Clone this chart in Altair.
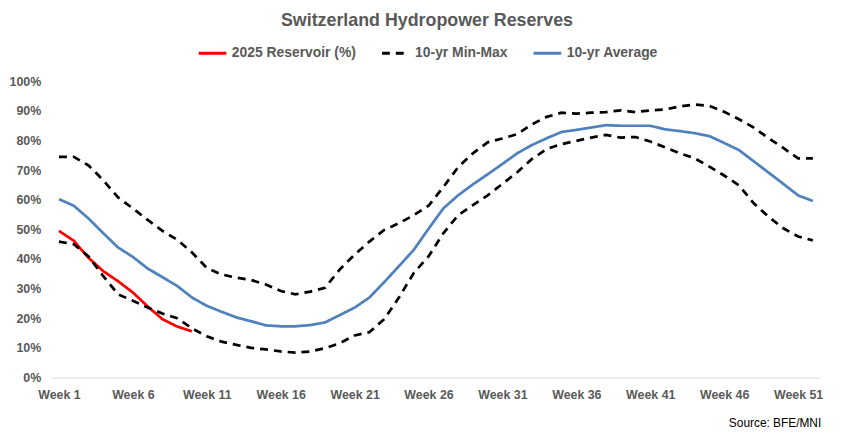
import altair as alt
import pandas as pd

weeks = list(range(1, 53))

reservoir_2025 = [49.5, 46.2, 40.4, 35.9, 32.5, 28.7, 24.0, 19.7, 17.2, 15.6]

ten_yr_max = [74.5, 74.5, 71.6, 66.6, 60.8, 57.1, 53.2, 49.5, 46.5, 42.2,
              37.0, 34.8, 33.7, 32.9, 31.4, 29.2, 28.1, 29.0, 30.3, 36.5,
              41.5, 45.9, 49.8, 52.1, 54.8, 58.0, 64.3, 71.0, 75.7, 79.4,
              80.7, 82.2, 85.5, 88.0, 89.4, 89.1, 89.4, 89.6, 90.2, 89.6,
              90.2, 90.5, 91.5, 92.2, 91.7, 89.7, 87.2, 84.4, 80.8, 77.5,
              74.0, 74.0]

ten_yr_min = [45.9, 45.0, 40.9, 34.2, 28.1, 25.9, 23.6, 21.6, 20.0, 16.6,
              13.9, 12.1, 11.0, 10.0, 9.5, 8.8, 8.4, 8.8, 9.9, 11.6,
              14.2, 15.3, 19.7, 27.0, 35.3, 40.9, 48.7, 54.8, 58.2, 61.5,
              65.4, 69.3, 73.8, 77.2, 78.8, 79.9, 81.0, 81.9, 81.0, 81.2,
              79.7, 77.7, 75.7, 74.0, 71.2, 68.2, 64.9, 58.8, 54.3, 50.4,
              47.6, 46.3]

ten_yr_avg = [60.2, 58.0, 53.7, 48.7, 43.9, 40.7, 36.8, 33.9, 30.9, 27.0,
              24.2, 22.2, 20.3, 19.0, 17.6, 17.3, 17.3, 17.7, 18.6, 21.1,
              23.6, 27.0, 32.2, 37.6, 43.1, 50.2, 57.1, 61.5, 65.2, 68.6,
              72.1, 75.7, 78.5, 80.8, 82.9, 83.6, 84.4, 85.2, 85.0, 85.0,
              85.0, 83.8, 83.2, 82.5, 81.5, 79.2, 76.8, 73.0, 69.2, 65.4,
              61.5, 59.6]

series_names = ["2025 Reservoir (%)", "10-yr Min-Max", "10-yr Average"]
x_tick_weeks = [1, 6, 11, 16, 21, 26, 31, 36, 41, 46, 51]
y_ticks = [0, 10, 20, 30, 40, 50, 60, 70, 80, 90, 100]

rows = []
for w, v in zip(weeks, reservoir_2025):
    rows.append({"week": w, "value": v, "series": series_names[0], "line": "2025"})
for w, v in zip(weeks, ten_yr_max):
    rows.append({"week": w, "value": v, "series": series_names[1], "line": "max"})
for w, v in zip(weeks, ten_yr_min):
    rows.append({"week": w, "value": v, "series": series_names[1], "line": "min"})
for w, v in zip(weeks, ten_yr_avg):
    rows.append({"week": w, "value": v, "series": series_names[2], "line": "avg"})
df = pd.DataFrame(rows)

GRAY = "#595959"
FONT = "Liberation Sans"

legend = alt.Legend(
    title=None, orient="none", legendX=147, legendY=-44, direction="horizontal",
    columns=3, symbolType="stroke", symbolSize=784, symbolStrokeWidth=3,
    labelFont=FONT, labelFontSize=14, labelFontWeight="bold", labelColor=GRAY,
    columnPadding=19, labelOffset=4,
)

lines = alt.Chart(df).mark_line(strokeWidth=2.75).encode(
    x=alt.X("week:Q",
            scale=alt.Scale(domain=[0.5, 52.5], nice=False, zero=False),
            axis=alt.Axis(values=x_tick_weeks, labelExpr="'Week ' + datum.value",
                          title=None, grid=False, ticks=False, domainColor="#D9D9D9",
                          labelColor=GRAY, labelFont=FONT, labelFontSize=12.5,
                          labelFontWeight="bold", labelPadding=11, labelFlush=False)),
    y=alt.Y("value:Q",
            scale=alt.Scale(domain=[0, 100], nice=False),
            axis=alt.Axis(values=y_ticks, labelExpr="datum.value + '%'",
                          title=None, grid=False, ticks=False, domain=False,
                          labelColor=GRAY, labelFont=FONT, labelFontSize=12.5,
                          labelFontWeight="bold", labelPadding=11)),
    color=alt.Color("series:N",
                    scale=alt.Scale(domain=series_names, range=["#FF0000", "#000000", "#4F81BD"]),
                    legend=legend),
    strokeDash=alt.StrokeDash("series:N",
                              scale=alt.Scale(domain=series_names, range=[[1, 0], [8, 6], [1, 0]]),
                              legend=legend),
    detail="line:N",
    order="week:Q",
)

source = alt.Chart(pd.DataFrame({"t": ["Source: BFE/MNI"]})).mark_text(
    align="right", baseline="middle", font=FONT, fontSize=12, color="#000000"
).encode(text="t:N", x=alt.value(777), y=alt.value(345))

chart = alt.layer(lines, source).properties(
    width=776, height=299,
    title=alt.TitleParams("Switzerland Hydropower Reserves", font=FONT, fontSize=18,
                          fontWeight="bold", color=GRAY, anchor="middle", dx=-9, dy=-4),
    autosize=alt.AutoSizeParams(type="none"),
    padding={"left": 44, "top": 72, "right": 27, "bottom": 56},
).configure_view(stroke=None)

chart.save("out.html", embed_options={"renderer": "svg", "actions": False})
